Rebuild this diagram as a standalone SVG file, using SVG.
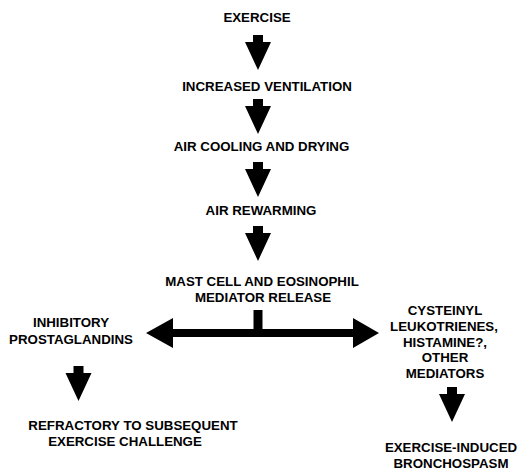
<svg xmlns="http://www.w3.org/2000/svg" width="519" height="474" viewBox="0 0 519 474">
<style>
  text { font-family: "Liberation Sans", Arial, sans-serif; font-weight: bold; font-size: 13.3px; fill: #000; text-anchor: middle; }
  .arrow { fill: #000; stroke: none; }
</style>
<defs>
  <polygon id="down" points="-5,0 5,0 5,7 13,7 0,35 -13,7 -5,7"/>
</defs>
<rect width="519" height="474" fill="#fff"/>
<g id="n-exercise"><text x="257" y="22">EXERCISE</text></g>
<g id="n-ventilation"><text x="267" y="91">INCREASED VENTILATION</text></g>
<g id="n-cooling"><text x="261.5" y="151">AIR COOLING AND DRYING</text></g>
<g id="n-rewarming"><text x="261" y="215">AIR REWARMING</text></g>
<g id="n-mast"><text x="262" y="286">MAST CELL AND EOSINOPHIL</text><text x="263" y="302">MEDIATOR RELEASE</text></g>
<g id="n-inhibitory"><text x="71" y="327">INHIBITORY</text><text x="71" y="344">PROSTAGLANDINS</text></g>
<g id="n-refractory"><text x="133" y="430">REFRACTORY TO SUBSEQUENT</text><text x="125" y="446">EXERCISE CHALLENGE</text></g>
<g id="n-mediators"><text x="445" y="315">CYSTEINYL</text><text x="444" y="331">LEUKOTRIENES,</text><text x="445" y="347">HISTAMINE?,</text><text x="445" y="362">OTHER</text><text x="445" y="378">MEDIATORS</text></g>
<g id="n-eib"><text x="451" y="452">EXERCISE-INDUCED</text><text x="451" y="468">BRONCHOSPASM</text></g>
<g id="connectors" class="arrow">
  <use href="#down" x="258" y="35"/>
  <use href="#down" x="258" y="99"/>
  <use href="#down" x="258" y="162"/>
  <use href="#down" x="258" y="226"/>
  <rect x="253.5" y="310" width="9" height="22"/>
  <polygon points="146,333 173,318 173,329 353,329 353,318 379,333 353,348 353,337 173,337 173,348"/>
  <use href="#down" x="78.5" y="366"/>
  <use href="#down" x="452" y="387"/>
</g>
</svg>
